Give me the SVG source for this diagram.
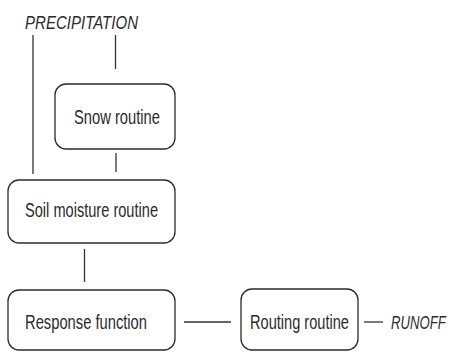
<svg xmlns="http://www.w3.org/2000/svg" width="452" height="352" viewBox="0 0 452 352">
<style>
.box{fill:#fff;stroke:#2b2b2b;stroke-width:1.3}
.ln{stroke:#333;stroke-width:1.3;fill:none}
text{font-family:"Liberation Sans",Arial,sans-serif;font-size:20px;fill:#2b2b2b}
.it{font-style:italic;font-size:18px}
</style>
<rect width="452" height="352" fill="#fff"/>
<g id="connectors">
<line class="ln" x1="33" y1="35" x2="33" y2="174"/>
<line class="ln" x1="115.5" y1="35" x2="115.5" y2="69"/>
<line class="ln" x1="116" y1="153" x2="116" y2="172"/>
<line class="ln" x1="84.5" y1="249" x2="84.5" y2="282"/>
<line class="ln" x1="184" y1="322" x2="231" y2="322"/>
<line class="ln" x1="364" y1="322" x2="383" y2="322"/>
</g>
<g id="precipitation"><text class="it" x="25" y="29" textLength="113" lengthAdjust="spacingAndGlyphs">PRECIPITATION</text></g>
<g id="snow"><rect class="box" x="55" y="84" width="120" height="65" rx="11"/><text x="74" y="124" textLength="86" lengthAdjust="spacingAndGlyphs">Snow routine</text></g>
<g id="soil"><rect class="box" x="8" y="180" width="167" height="63" rx="11"/><text x="25" y="217" textLength="133" lengthAdjust="spacingAndGlyphs">Soil moisture routine</text></g>
<g id="response"><rect class="box" x="8" y="290" width="167" height="60" rx="11"/><text x="25" y="329" textLength="122" lengthAdjust="spacingAndGlyphs">Response function</text></g>
<g id="routing"><rect class="box" x="241" y="289" width="117" height="61" rx="11"/><text x="250" y="329" textLength="99" lengthAdjust="spacingAndGlyphs">Routing routine</text></g>
<g id="runoff"><text class="it" transform="translate(391,329) scale(0.73,1)" x="0" y="0">RUNOFF</text></g>
</svg>
